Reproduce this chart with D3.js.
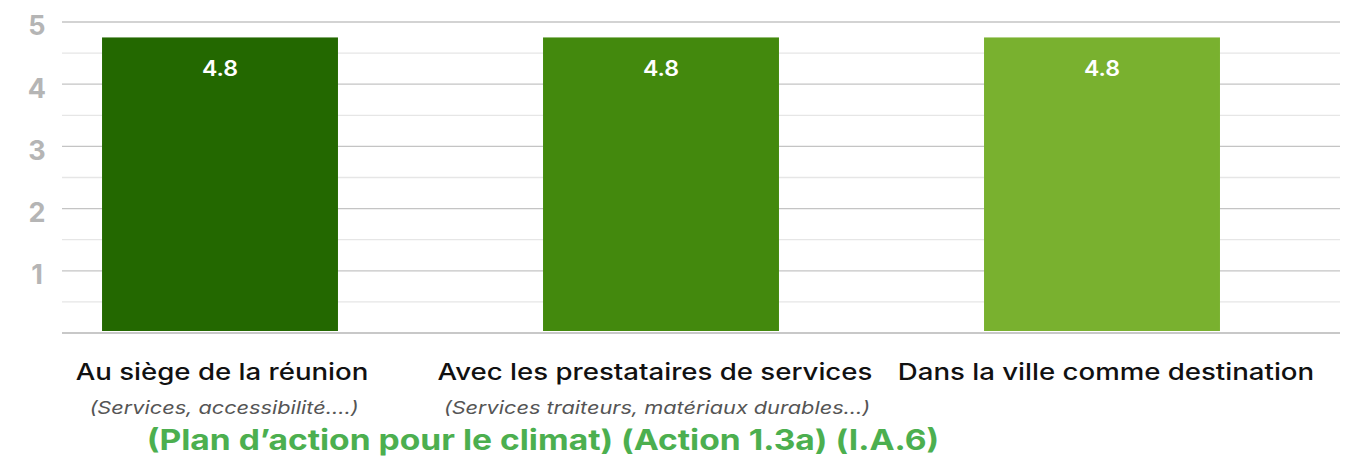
<!DOCTYPE html>
<html><head><meta charset="utf-8">
<script src="https://cdn.jsdelivr.net/npm/d3@7"></script>
<style>body{margin:0;background:#fff;} svg{display:block;}</style>
</head><body>
<svg id="c" width="1347" height="457"></svg>
<script>
const categories = ["Au siège de la réunion", "Avec les prestataires de services", "Dans la ville comme destination"];
const subtitles = ["(Services, accessibilité….)", "(Services traiteurs, matériaux durables…)", ""];
const values = [4.8, 4.8, 4.8];
const valueLabels = ["4.8", "4.8", "4.8"];
const barColors = ["#236800", "#43890d", "#79b12f"];
const yTicks = [1, 2, 3, 4, 5];
const yMinor = [0.5, 1.5, 2.5, 3.5, 4.5];
const title = "(Plan d’action pour le climat) (Action 1.3a) (I.A.6)";

const svg = d3.select("#c");
const font = "Inter, 'Open Sans', sans-serif";
const WIDE = 1.2; // emulate a wide geometric typeface
const y = d3.scaleLinear().domain([0, 5]).range([333, 22]);
const x = d3.scaleBand().domain(categories).range([-0.5, 1322.5]).paddingInner(0.465).paddingOuter(0.2325);
const gx0 = 62, gx1 = 1340;
const labelNudge = [2, -6, 4];

function widen(sel, f) {
  sel.each(function () {
    const w = this.getComputedTextLength();
    if (w > 0) d3.select(this).attr("textLength", w * f).attr("lengthAdjust", "spacingAndGlyphs");
  });
}

svg.append("g").selectAll("line").data(yMinor).join("line")
  .attr("x1", gx0).attr("x2", gx1).attr("y1", d => y(d)).attr("y2", d => y(d))
  .attr("stroke", "#e6e6e6").attr("stroke-width", 1.3);
svg.append("g").selectAll("line").data(yTicks).join("line")
  .attr("x1", gx0).attr("x2", gx1).attr("y1", d => y(d)).attr("y2", d => y(d))
  .attr("stroke", "#c4c4c4").attr("stroke-width", 1.3);
svg.append("line").attr("x1", gx0).attr("x2", gx1).attr("y1", y(0)).attr("y2", y(0))
  .attr("stroke", "#c8c8c8").attr("stroke-width", 2);

svg.append("g").selectAll("text").data(yTicks).join("text")
  .attr("x", 37).attr("y", d => y(d) + 4).attr("dy", "0.35em")
  .attr("text-anchor", "middle").attr("font-family", font).attr("font-weight", 700)
  .attr("font-size", 27).attr("fill", "#b5b5b5").text(d => d);

svg.append("g").selectAll("rect").data(values).join("rect")
  .attr("x", (d, i) => x(categories[i])).attr("width", x.bandwidth())
  .attr("y", d => y(d) + 3).attr("height", d => y(0) - 2 - y(d) - 3)
  .attr("fill", (d, i) => barColors[i]);

svg.append("g").selectAll("text").data(values).join("text")
  .attr("x", (d, i) => x(categories[i]) + x.bandwidth() / 2)
  .attr("y", d => y(d) + 34).attr("dy", "0.35em")
  .attr("text-anchor", "middle").attr("font-family", font).attr("font-weight", 600)
  .attr("font-size", 21).attr("fill", "#ffffff").text((d, i) => valueLabels[i])
  .call(widen, 1.1);

const catCenters = categories.map(c => x(c) + x.bandwidth() / 2);
svg.append("g").selectAll("text").data(categories).join("text")
  .attr("x", (d, i) => catCenters[i] + labelNudge[i]).attr("y", 380)
  .attr("text-anchor", "middle").attr("font-family", font).attr("font-weight", 500)
  .attr("font-size", 23).attr("fill", "#111").text(d => d)
  .call(widen, WIDE);

svg.append("g").selectAll("text").data(subtitles).join("text")
  .attr("x", (d, i) => catCenters[i] + labelNudge[i] + 2).attr("y", 414)
  .attr("text-anchor", "middle").attr("font-family", font).attr("font-style", "italic")
  .attr("font-size", 17.5).attr("fill", "#555").text(d => d)
  .call(widen, 1.24);

svg.append("text").attr("x", 543).attr("y", 450).attr("text-anchor", "middle")
  .attr("font-family", font).attr("font-weight", 700).attr("font-size", 28)
  .attr("fill", "#4caf4f").text(title)
  .call(widen, WIDE);
</script>
</body></html>
